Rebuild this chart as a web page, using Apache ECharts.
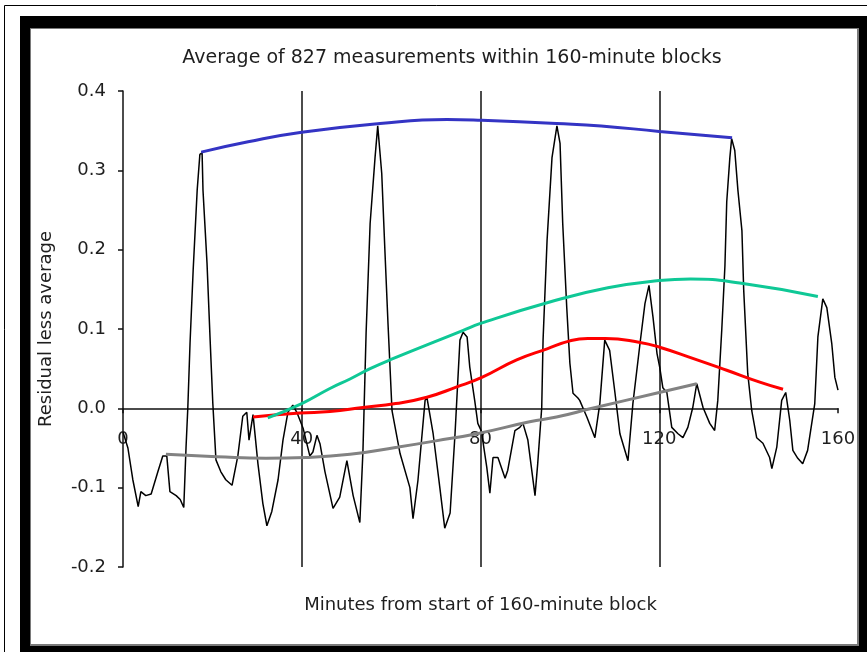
<!DOCTYPE html>
<html><head><meta charset="utf-8">
<script src="https://cdn.jsdelivr.net/npm/echarts@6/dist/echarts.min.js"></script>
<style>html,body{margin:0;padding:0;background:#fff}#c{width:867px;height:652px}</style>
</head><body><div id="c"></div>
<script>
const titleText = 'Average of 827 measurements within 160-minute blocks';
const xAxisName = 'Minutes from start of 160-minute block';
const yAxisName = 'Residual less average';
const xTicks = [0, 40, 80, 120, 160];
const yTicks = [-0.2, -0.1, 0.0, 0.1, 0.2, 0.3, 0.4];

// [minute, residual less average]
const residual = [
  [0,-0.03],[1.1,-0.05],[2.2,-0.09],[3.4,-0.124],[4.0,-0.105],[5.1,-0.11],[6.3,-0.108],[7.8,-0.08],
  [8.9,-0.06],[9.8,-0.06],[10.5,-0.105],[11.9,-0.11],[12.8,-0.115],[13.6,-0.125],[14.1,-0.05],[14.5,0.0],
  [15.0,0.082],[15.7,0.174],[16.6,0.275],[17.2,0.32],[17.7,0.322],[17.9,0.275],[18.8,0.183],[19.5,0.086],
  [20.1,0.006],[20.8,-0.065],[21.9,-0.08],[23.0,-0.09],[24.4,-0.097],[25.7,-0.06],[26.8,-0.01],[27.7,-0.005],
  [28.2,-0.04],[29.1,-0.008],[30.2,-0.07],[31.3,-0.12],[32.2,-0.148],[33.3,-0.13],[34.7,-0.09],[35.8,-0.04],
  [36.9,-0.005],[38.0,0.004],[38.9,-0.005],[40.3,-0.025],[41.8,-0.06],[42.5,-0.055],[43.4,-0.034],[44.1,-0.045],
  [45.2,-0.08],[47.0,-0.126],[48.5,-0.112],[50.1,-0.066],[51.5,-0.11],[53.0,-0.144],[53.7,-0.053],[54.4,0.095],
  [55.3,0.233],[56.4,0.316],[57.0,0.356],[57.9,0.296],[58.6,0.2],[59.3,0.107],[60.2,-0.003],[60.9,-0.024],
  [62.0,-0.057],[64.2,-0.1],[64.9,-0.139],[66.0,-0.091],[67.6,0.01],[68.0,0.014],[69.4,-0.032],[70.9,-0.1],
  [72.0,-0.151],[73.2,-0.132],[74.3,-0.032],[75.4,0.086],[76.1,0.096],[77.0,0.09],[77.6,0.052],[78.7,0.01],
  [79.4,-0.019],[80.3,-0.03],[80.5,-0.04],[81.4,-0.074],[82.1,-0.107],[82.8,-0.062],[83.9,-0.062],[85.5,-0.088],
  [86.1,-0.078],[87.7,-0.028],[88.8,-0.024],[89.5,-0.019],[90.6,-0.04],[92.2,-0.11],[92.8,-0.07],[93.7,0.001],
  [94.0,0.086],[94.9,0.212],[96.0,0.316],[97.1,0.356],[97.8,0.334],[98.4,0.233],[99.3,0.127],[100.0,0.057],
  [100.7,0.019],[101.8,0.013],[102.2,0.01],[103.8,-0.011],[105.6,-0.037],[106.7,0.006],[107.8,0.086],[108.9,0.073],
  [110.1,0.019],[111.2,-0.032],[113.0,-0.066],[114.1,0.006],[115.7,0.082],[116.8,0.132],[117.7,0.155],[118.6,0.115],
  [119.5,0.069],[120.1,0.052],[120.8,0.026],[121.7,0.02],[122.8,-0.024],[124.2,-0.032],[125.3,-0.037],[126.4,-0.024],
  [127.5,0.001],[128.4,0.031],[129.8,0.001],[131.3,-0.019],[132.4,-0.028],[133.1,0.01],[134.0,0.10],[134.7,0.18],
  [135.1,0.26],[135.8,0.316],[136.2,0.34],[136.9,0.325],[137.6,0.275],[138.5,0.224],[138.9,0.149],[139.8,0.044],
  [140.7,-0.003],[141.8,-0.037],[143.2,-0.044],[144.7,-0.062],[145.2,-0.076],[146.3,-0.049],[147.4,0.01],[148.3,0.02],
  [149.2,-0.015],[149.9,-0.053],[151.0,-0.063],[152.1,-0.07],[153.2,-0.053],[154.8,0.006],[155.5,0.09],[156.6,0.138],
  [157.5,0.127],[158.6,0.082],[159.3,0.039],[160.0,0.023]
];
const blueTrend = [[17.5,0.323],[28,0.336],[40,0.348],[57.5,0.359],[72.5,0.364],[80.3,0.363],[97,0.359],[107,0.356],[120,0.349],[136.3,0.341]];
const tealTrend = [[32.4,-0.012],[40,0.006],[46.3,0.025],[50.8,0.037],[55.3,0.05],[59.7,0.061],[76,0.098],[80,0.107],[95.5,0.134],[108.5,0.152],[120,0.161],[127,0.163],[138,0.158],[155.5,0.141]];
const redTrend = [[29.1,-0.011],[39.6,-0.006],[46.3,-0.004],[53.7,0.001],[61,0.006],[68,0.014],[74.7,0.027],[80.3,0.039],[88.1,0.061],[94.9,0.075],[100,0.085],[104,0.088],[108,0.088],[115.7,0.083],[120.1,0.077],[127.5,0.063],[135.1,0.048],[142.5,0.033],[147.7,0.024]];
const grayTrend = [[9.6,-0.058],[21,-0.061],[32,-0.063],[41,-0.062],[50.8,-0.058],[61.3,-0.049],[70,-0.041],[79.2,-0.032],[91,-0.017],[97,-0.011],[105,0.0],[120,0.02],[128.4,0.031]];

const FONT = 'DejaVu Sans';
const GRID_TOP = 91, GRID_BOTTOM_PX = 567;
// the x axis sits on y = 0: shift it up from the grid bottom by the pixel distance of 0 from -0.2
const zeroShift = (GRID_BOTTOM_PX - GRID_TOP) * (0 - yTicks[0]) / (yTicks[yTicks.length - 1] - yTicks[0]);
const chart = echarts.init(document.getElementById('c'), null, {renderer: 'canvas'});
const trend = (data, color) => ({
  type: 'line', data: data, smooth: true, showSymbol: false, symbol: 'none',
  lineStyle: {color: color, width: 3}, z: 4, animation: false
});
chart.setOption({
  backgroundColor: '#fff',
  animation: false,
  graphic: [
    {type: 'rect', z: -10, shape: {x: 4.5, y: 5.5, width: 1000, height: 1000}, style: {fill: '#fff', stroke: '#000', lineWidth: 1}},
    {type: 'rect', z: -9, shape: {x: 20, y: 16, width: 900, height: 700}, style: {fill: '#000'}},
    {type: 'rect', z: -8, shape: {x: 30, y: 28, width: 829, height: 618}, style: {fill: '#7a7a7a'}},
    {type: 'rect', z: -7, shape: {x: 31, y: 29, width: 826, height: 615}, style: {fill: '#fff'}}
  ],
  title: {
    text: titleText, left: 447, top: 44, textAlign: 'center',
    textStyle: {fontFamily: FONT, fontSize: 19, fontWeight: 'normal', color: '#1e1e1e'}
  },
  grid: {left: 123, right: 29, top: GRID_TOP, bottom: 652 - GRID_BOTTOM_PX, containLabel: false, outerBoundsMode: 'none'},
  xAxis: {
    type: 'value', min: xTicks[0], max: xTicks[xTicks.length - 1], interval: 40,
    position: 'bottom', offset: -zeroShift,
    name: xAxisName, nameLocation: 'middle', nameGap: 188,
    nameTextStyle: {fontFamily: FONT, fontSize: 18, color: '#1e1e1e'},
    axisLine: {onZero: false, lineStyle: {color: '#111', width: 1.5}},
    axisTick: {show: true, inside: false, length: 5, lineStyle: {color: '#111', width: 1.5}},
    axisLabel: {fontFamily: FONT, fontSize: 18, color: '#1e1e1e', margin: 22,
      formatter: v => String(xTicks.find(t => Math.abs(t - v) < 1e-6) ?? v)},
    splitLine: {show: true, showMinLine: false, showMaxLine: false, lineStyle: {color: '#111', width: 1.5}}
  },
  yAxis: {
    type: 'value', min: yTicks[0], max: yTicks[yTicks.length - 1], interval: 0.1,
    name: yAxisName, nameLocation: 'middle', nameGap: 68, nameRotate: 90,
    nameTextStyle: {fontFamily: FONT, fontSize: 18, color: '#1e1e1e'},
    axisLine: {show: true, onZero: false, lineStyle: {color: '#111', width: 1.5}},
    axisTick: {show: true, inside: false, length: 5, lineStyle: {color: '#111', width: 1.5}},
    axisLabel: {fontFamily: FONT, fontSize: 18, color: '#1e1e1e', margin: 17,
      formatter: v => (Math.round(v * 10) / 10).toFixed(1)},
    splitLine: {show: false}
  },
  series: [
    {type: 'line', data: residual, showSymbol: false, symbol: 'none', smooth: false,
     lineStyle: {color: '#000', width: 1.5}, z: 3},
    trend(grayTrend, '#828282'),
    trend(redTrend, '#ff0000'),
    trend(tealTrend, '#0fc896'),
    trend(blueTrend, '#3434c4')
  ]
});
</script></body></html>
